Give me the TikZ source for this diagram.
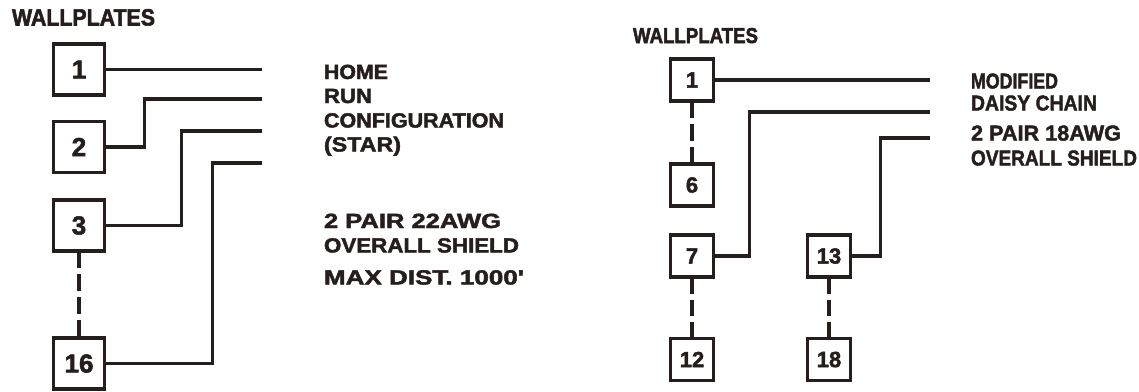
\documentclass[tikz,border=0pt]{standalone}
\usepackage{fontspec}
\setmainfont{Liberation Sans}
\newfontfamily\heavyfont[FakeBold=2.4]{Liberation Sans}
\newfontfamily\labelfont[FakeBold=2]{Liberation Sans}
\usepackage{graphicx}
\definecolor{ink}{RGB}{38,30,28}
\newcommand{\fitw}[2]{\resizebox{#1pt}{\height}{#2}}
\begin{document}
\begin{tikzpicture}[x=1pt,y=-1pt,
  plate/.style={draw=ink, line width=3.2pt, minimum width=51pt, minimum height=51pt,
    inner sep=0pt, outer sep=0pt, text=ink, font=\fontsize{26}{26}\selectfont\labelfont\bfseries},
  splate/.style={plate, minimum width=43pt, minimum height=42pt,
    font=\fontsize{22}{22}\selectfont\labelfont\bfseries},
  wire/.style={draw=ink, line width=3.4pt},
  dashlink/.style={draw=ink, line width=3.2pt, dash pattern=on #1 off 6pt},
  lbl/.style={anchor=base west, inner sep=0pt, outer sep=0pt, text=ink,
    font=\fontsize{20.5}{20.5}\selectfont\labelfont\bfseries},
  rlbl/.style={lbl, font=\fontsize{21.5}{21.5}\selectfont\labelfont\bfseries},
  ttl/.style={lbl, font=\fontsize{23.5}{23.5}\selectfont\heavyfont\bfseries},
  rttl/.style={lbl, font=\fontsize{21.5}{21.5}\selectfont\heavyfont\bfseries}
]
\useasboundingbox[fill=white] (0,0) rectangle (1139,391);

% ---------------- left panel ----------------
\node[ttl] (lt) at (12,25.5) {\fitw{143}{WALLPLATES}};
\node[plate] (b1)  at (79,69.5)  {1};
\node[plate] (b2)  at (79,147)   {2};
\node[plate] (b3)  at (79,225.5) {3};
\node[plate] (b16) at (79,363.5) {16};

\coordinate (L1) at (262,69.5);
\coordinate (L2) at (262,99);
\coordinate (L3) at (262,131);
\coordinate (L4) at (262,163);

\draw[wire] (b1.east) -- (L1);
\draw[wire] (b2.east) -- ++(40,0) |- (L2);
\draw[wire] (b3.east) -- ++(77,0) |- (L3);
\draw[wire] (b16.east) -- ++(108,0) |- (L4);
\draw[dashlink=17pt] (b3.south) -- (b16.north);

\node[lbl] (h1) at (324,79)  {\fitw{64}{HOME}};
\node[lbl] (h2) at (324,103) {\fitw{48}{RUN}};
\node[lbl] (h3) at (324,127.5) {\fitw{180}{CONFIGURATION}};
\node[lbl] (h4) at (324,151.5) {\fitw{77}{(STAR)}};
\node[lbl] (s1) at (324,228) {\fitw{177}{2 PAIR 22AWG}};
\node[lbl] (s2) at (324,252.5) {\fitw{195}{OVERALL SHIELD}};
\node[lbl] (s3) at (324,284.5) {\fitw{200}{MAX DIST. 1000'}};

% ---------------- right panel ----------------
\node[rttl] (rt) at (633,43) {\fitw{125}{WALLPLATES}};
\node[splate] (r1)  at (692,80)    {1};
\node[splate] (r6)  at (692,185)   {6};
\node[splate] (r7)  at (692,256)   {7};
\node[splate] (r12) at (692,359.5) {12};
\node[splate] (r13) at (829,256)   {13};
\node[splate] (r18) at (829,359.5) {18};

\coordinate (R1) at (930,80);
\coordinate (R2) at (930,112);
\coordinate (R3) at (930,138);

\draw[wire] (r1.east) -- (R1);
\draw[wire] (r7.east) -- ++(36,0) |- (R2);
\draw[wire] (r13.east) -- ++(30,0) |- (R3);
\draw[dashlink=16.8pt] (r1.south) -- (r6.north);
\draw[dashlink=16.5pt] (r7.south) -- (r12.north);
\draw[dashlink=16.5pt] (r13.south) -- (r18.north);

\node[rlbl] (m1) at (971,88.5)  {\fitw{87}{MODIFIED}};
\node[rlbl] (m2) at (971,110.5) {\fitw{126}{DAISY CHAIN}};
\node[rlbl] (m3) at (971,140.5) {\fitw{150}{2 PAIR 18AWG}};
\node[rlbl] (m4) at (971,165.5) {\fitw{166}{OVERALL SHIELD}};
\end{tikzpicture}
\end{document}
